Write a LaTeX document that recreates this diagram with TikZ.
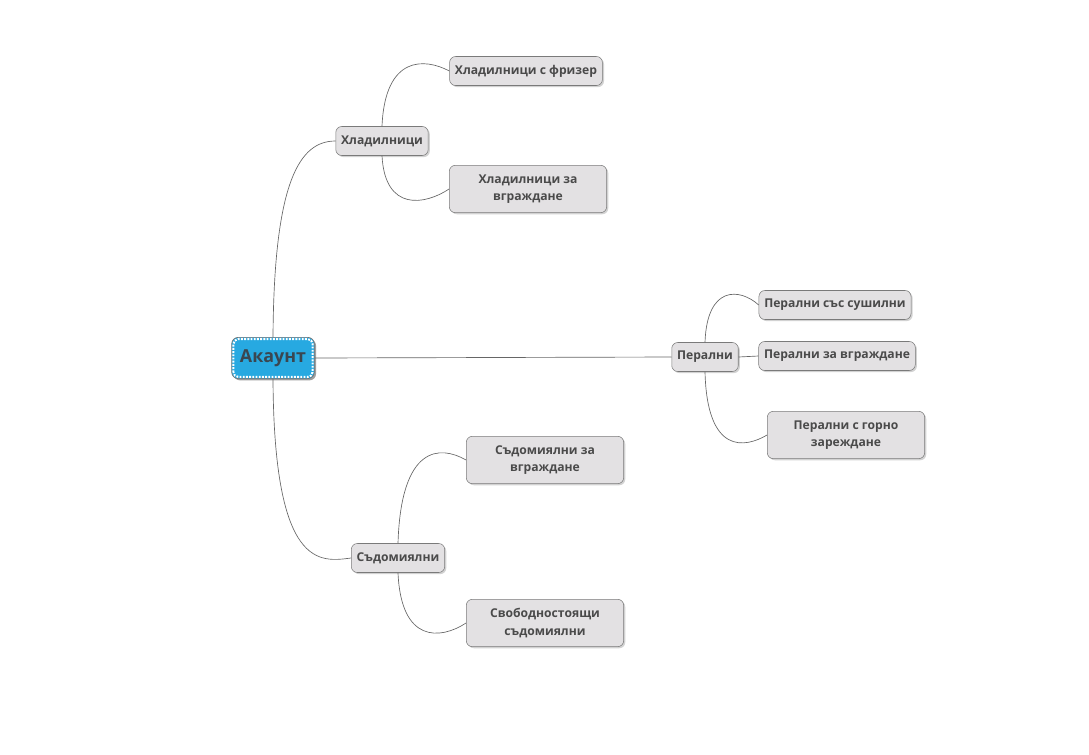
\documentclass[tikz,border=0pt]{standalone}
\usepackage{fontspec}
\setmainfont{Open Sans}
\usetikzlibrary{shadows}
\definecolor{boxfill}{HTML}{E3E1E3}
\definecolor{boxline}{HTML}{7A7A7A}
\definecolor{boxtext}{HTML}{4A4A4A}
\definecolor{rootfill}{HTML}{27A9E1}
\definecolor{roottext}{HTML}{3A4650}
\tikzset{
    topic/.style={draw=boxline, fill=boxfill, rounded corners=4.5pt, text=boxtext,
        font=\bfseries\fontsize{9.1}{12.8}\selectfont, align=center,
        minimum height=21.75pt, inner xsep=4pt,
        drop shadow={shadow xshift=1.2pt, shadow yshift=-1.2pt, fill=black!35}},
    widetopic/.style={topic, minimum width=118pt, minimum height=35.5pt},
    root/.style={fill=rootfill, draw=black!55, line width=0.5pt,
        rounded corners=5pt, text=roottext, font=\bfseries\fontsize{13.4}{16}\selectfont,
        minimum width=62pt, minimum height=31pt,
        drop shadow={shadow xshift=1.3pt, shadow yshift=-1.3pt, fill=black!75}},
    rootdots/.style={draw=white, dash pattern=on 1.4pt off 1pt, line width=1.5pt, rounded corners=3.5pt},
    link/.style={draw=black!60, line width=0.5pt}
}

\begin{document}
\begin{tikzpicture}[x=0.75pt, y=-0.75pt]
    \useasboundingbox (0,0) rectangle (1089,754);
    % nodes
    \node[root] (acc) at (273,358) {Акаунт};
    \draw[rootdots] ([shift={(1.6pt,1.6pt)}]acc.south west) rectangle ([shift={(-1.6pt,-1.6pt)}]acc.north east);
    \node[topic] (fr) at (382,141) {Хладилници};
    \node[topic] (frz) at (526,71) {Хладилници с фризер};
    \node[widetopic] (frb) at (528,189) {Хладилници за\\вграждане};
    \node[topic] (wm) at (705,357) {Перални};
    \node[topic] (wmd) at (835,305) {Перални със сушилни};
    \node[topic] (wmb) at (837,356) {Перални за вграждане};
    \node[widetopic] (wmt) at (846,435) {Перални с горно\\зареждане};
    \node[topic] (dw) at (398,558) {Съдомиялни};
    \node[widetopic] (dwb) at (545,460) {Съдомиялни за\\вграждане};
    \node[widetopic] (dwf) at (545,623) {Свободностоящи\\съдомиялни};
    % connectors
    \draw[link] (acc.north) .. controls (274,180) and (300,141) .. (fr.west);
    \draw[link] (acc.east) -- (wm.west);
    \draw[link] (acc.south) .. controls (274,570) and (320,562) .. (dw.west);
    \draw[link] (fr.north) .. controls (385,55) and (425,58) .. (frz.west);
    \draw[link] (fr.south) .. controls (385,212) and (425,205) .. (frb.west);
    \draw[link] (wm.north) .. controls (707,285) and (740,288) .. (wmd.west);
    \draw[link] (wm.east) -- (wmb.west);
    \draw[link] (wm.south) .. controls (707,455) and (745,448) .. (wmt.west);
    \draw[link] (dw.north) .. controls (401,445) and (440,445) .. (dwb.west);
    \draw[link] (dw.south) .. controls (401,643) and (440,640) .. (dwf.west);
\end{tikzpicture}
\end{document}
